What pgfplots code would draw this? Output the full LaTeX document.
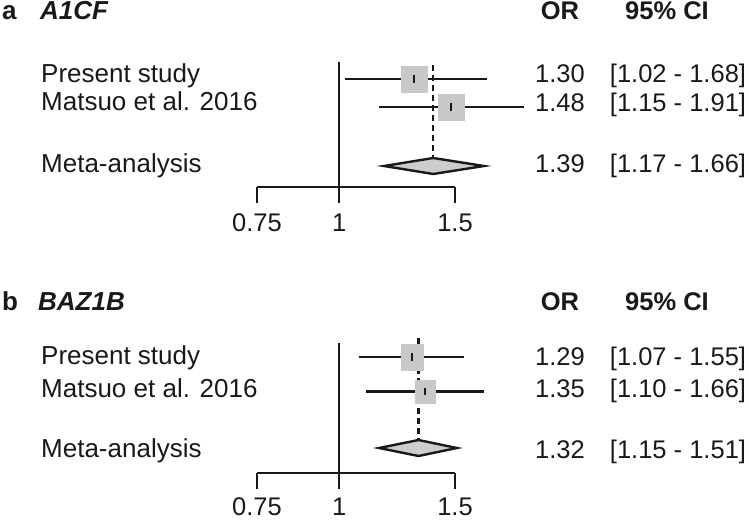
\documentclass[border=0pt]{standalone}
\usepackage{fontspec}
\setmainfont{Liberation Sans}
\usepackage{pgfplots}
\pgfplotsset{compat=1.18}
\definecolor{ink}{RGB}{25,25,25}
\definecolor{boxgray}{RGB}{200,200,200}
\definecolor{diagray}{RGB}{205,205,205}
\newcommand\lab{\fontsize{26bp}{30bp}\selectfont}
\newcommand\num{\fontsize{25.5bp}{30bp}\selectfont}
\pgfplotsset{
  ci/.style={no marks, line width=2.4bp, color=ink},
  refl/.style={no marks, line width=2.4bp, color=ink, dash pattern=on 6bp off 4bp},
  boxm/.style={only marks, mark=square*, color=boxgray, mark options={draw=none, fill=boxgray}},
  ctr/.style={only marks, mark=|, mark size=3.7bp, color=ink, mark options={line width=2.6bp}},
  dia/.style={no marks, line width=2.4bp, draw=ink, fill=diagray},
}
\begin{document}
\begin{tikzpicture}[every node/.style={inner sep=0pt, text=ink}]
\useasboundingbox (0,0) rectangle (749bp,-520bp);
% ---------------- panel a
\begin{axis}[xmode=log, scale only axis, width=198bp, height=125bp,
    xmin=0.75, xmax=1.5, ymin=-187, ymax=-62,
    at={(257bp,-187bp)}, anchor=south west,
    clip=false, axis x line*=bottom, axis y line=none,
    xtick={0.75,1,1.5}, xticklabels={}, xminorticks=false,
    tick align=outside, major tick length=16bp,
    every tick/.style={line width=2.4bp, color=ink},
    axis line style={line width=2.4bp, color=ink}]
\addplot[ci] coordinates {(1,-62) (1,-203)};
\addplot[refl] coordinates {(1.39,-65) (1.39,-158)};
\addplot[boxm, mark size=13.25bp] coordinates {(1.30,-79)};
\addplot[ci] coordinates {(1.02,-79) (1.68,-79)};
\addplot[ctr] coordinates {(1.30,-79)};
\addplot[boxm, mark size=13bp] coordinates {(1.48,-107)};
\addplot[ci] coordinates {(1.15,-107) (1.91,-107)};
\addplot[ctr] coordinates {(1.48,-107)};
\addplot[dia] coordinates {(1.17,-166) (1.39,-158) (1.66,-166) (1.39,-174)} -- cycle;
\node[anchor=base, font=\num] at (axis cs:0.75,-231.5) {0.75};
\node[anchor=base, font=\num] at (axis cs:1,-231.5) {1};
\node[anchor=base, font=\num] at (axis cs:1.5,-231.5) {1.5};
\end{axis}
\node[anchor=base west, font=\lab\bfseries] at (2bp,-19bp) {a};
\node[anchor=base west, font=\lab\bfseries\itshape] at (40bp,-19bp) {A1CF};
\node[anchor=base, font=\num\bfseries] at (560bp,-19.5bp) {OR};
\node[anchor=base, font=\num\bfseries] at (667bp,-19.5bp) {95\% CI};
\node[anchor=base west, font=\lab] at (41bp,-82bp) {Present study};
\node[anchor=base west, font=\lab] at (41bp,-110.5bp) {Matsuo et al. 2016};
\node[anchor=base west, font=\lab] at (41bp,-172bp) {Meta-analysis};
\node[anchor=base, font=\num] at (560bp,-82.5bp) {1.30};
\node[anchor=base, font=\num] at (678bp,-82.5bp) {[1.02 - 1.68]};
\node[anchor=base, font=\num] at (560bp,-111bp) {1.48};
\node[anchor=base, font=\num] at (678bp,-111bp) {[1.15 - 1.91]};
\node[anchor=base, font=\num] at (560bp,-172bp) {1.39};
\node[anchor=base, font=\num] at (678bp,-172bp) {[1.17 - 1.66]};
% ---------------- panel b
\begin{axis}[xmode=log, scale only axis, width=198bp, height=135bp,
    xmin=0.75, xmax=1.5, ymin=-473, ymax=-338,
    at={(257bp,-473bp)}, anchor=south west,
    clip=false, axis x line*=bottom, axis y line=none,
    xtick={0.75,1,1.5}, xticklabels={}, xminorticks=false,
    tick align=outside, major tick length=16bp,
    every tick/.style={line width=2.4bp, color=ink},
    axis line style={line width=2.4bp, color=ink}]
\addplot[ci] coordinates {(1,-343) (1,-489)};
\addplot[refl] coordinates {(1.32,-338) (1.32,-440)};
\addplot[boxm, mark size=13bp, mark options={xscale=0.85}] coordinates {(1.29,-357)};
\addplot[ci] coordinates {(1.07,-357) (1.55,-357)};
\addplot[ctr] coordinates {(1.29,-357)};
\addplot[boxm, mark size=11.5bp, mark options={xscale=0.87}] coordinates {(1.35,-391.5)};
\addplot[ci] coordinates {(1.10,-391.5) (1.66,-391.5)};
\addplot[ctr] coordinates {(1.35,-391.5)};
\addplot[dia] coordinates {(1.15,-448) (1.32,-440) (1.51,-448) (1.32,-456)} -- cycle;
\node[anchor=base, font=\num] at (axis cs:0.75,-515) {0.75};
\node[anchor=base, font=\num] at (axis cs:1,-515) {1};
\node[anchor=base, font=\num] at (axis cs:1.5,-515) {1.5};
\end{axis}
\node[anchor=base west, font=\lab\bfseries] at (2bp,-310bp) {b};
\node[anchor=base west, font=\lab\bfseries\itshape] at (38bp,-310bp) {BAZ1B};
\node[anchor=base, font=\num\bfseries] at (560bp,-310bp) {OR};
\node[anchor=base, font=\num\bfseries] at (667bp,-310bp) {95\% CI};
\node[anchor=base west, font=\lab] at (41bp,-364.5bp) {Present study};
\node[anchor=base west, font=\lab] at (41bp,-397bp) {Matsuo et al. 2016};
\node[anchor=base west, font=\lab] at (41bp,-457bp) {Meta-analysis};
\node[anchor=base, font=\num] at (560bp,-365bp) {1.29};
\node[anchor=base, font=\num] at (678bp,-365bp) {[1.07 - 1.55]};
\node[anchor=base, font=\num] at (560bp,-397bp) {1.35};
\node[anchor=base, font=\num] at (678bp,-397bp) {[1.10 - 1.66]};
\node[anchor=base, font=\num] at (560bp,-458bp) {1.32};
\node[anchor=base, font=\num] at (678bp,-458bp) {[1.15 - 1.51]};
\end{tikzpicture}
\end{document}
